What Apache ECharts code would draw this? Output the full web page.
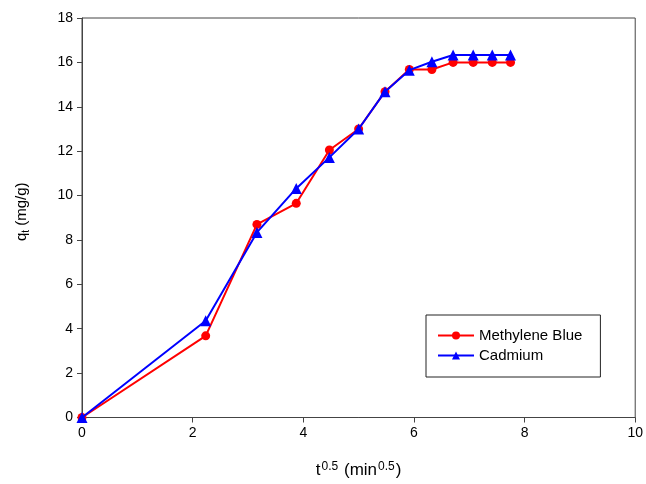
<!DOCTYPE html>
<html><head><meta charset="utf-8">
<script src="https://cdn.jsdelivr.net/npm/echarts@6/dist/echarts.min.js"></script>
<style>html,body{margin:0;padding:0;background:#fff}#c{width:646px;height:484px}</style>
</head><body><div id="c"></div>
<script>
const tValues = [0, 2.236, 3.162, 3.873, 4.472, 5.0, 5.477, 5.916, 6.325, 6.708, 7.071, 7.416, 7.746];
const methyleneBlue = [0, 3.68, 8.70, 9.65, 12.05, 13.0, 14.68, 15.68, 15.68, 16.0, 16.0, 16.0, 16.0];
const cadmium = [0, 4.36, 8.34, 10.32, 11.72, 13.0, 14.68, 15.65, 16.03, 16.33, 16.33, 16.33, 16.33];
const seriesNames = ["Methylene Blue", "Cadmium"];

const font = "Liberation Sans, Arial, sans-serif";
const chart = echarts.init(document.getElementById('c'));
const pairs = arr => tValues.map((t, i) => [t, arr[i]]);
chart.setOption({
  animation: false,
  grid: {left: 82, right: 9, top: 18, bottom: 66, show: true, borderColor: '#444', borderWidth: 1},
  legend: {
    orient: 'vertical', left: 426, top: 315,
    padding: [13, 18, 14, 11], itemGap: 5, itemWidth: 36, itemHeight: 10,
    borderColor: '#222', borderWidth: 1,
    textStyle: {fontFamily: font, fontSize: 15, color: '#000'},
    data: seriesNames
  },
  xAxis: {
    type: 'value', min: 0, max: 10, interval: 2,
    axisLine: {lineStyle: {color: '#444', width: 1}},
    axisTick: {show: true, inside: false, length: 5, lineStyle: {color: '#444'}},
    splitLine: {show: false},
    axisLabel: {fontFamily: font, fontSize: 14, color: '#000', margin: 9},
    name: '{n|t}{s|0.5}{n| (min}{s|0.5}{n|)}',
    nameLocation: 'middle', nameGap: 43,
    nameTextStyle: {rich: {
      n: {fontFamily: font, fontSize: 17, color: '#000'},
      s: {fontFamily: font, fontSize: 12, color: '#000', verticalAlign: 'top', padding: [0, 1, 8, 1]}
    }}
  },
  yAxis: {
    type: 'value', min: 0, max: 18, interval: 2,
    axisLine: {lineStyle: {color: '#444', width: 1}},
    axisTick: {show: true, inside: false, length: 5, lineStyle: {color: '#444'}},
    splitLine: {show: false},
    axisLabel: {fontFamily: font, fontSize: 14, color: '#000', margin: 9},
    name: '{n|q}{b|t}{n| (mg/g)}',
    nameLocation: 'middle', nameGap: 51, nameRotate: 90,
    nameTextStyle: {padding: [0, 0, 0, 12], rich: {
      n: {fontFamily: font, fontSize: 15, color: '#000'},
      b: {fontFamily: font, fontSize: 10, color: '#000', verticalAlign: 'bottom', padding: [8, 0, 0, 0]}
    }}
  },
  series: [
    {name: seriesNames[0], type: 'line', data: pairs(methyleneBlue), symbol: 'circle', symbolSize: 9,
     lineStyle: {color: '#ff0000', width: 2}, itemStyle: {color: '#ff0000'}, z: 2},
    {name: seriesNames[1], type: 'line', data: pairs(cadmium), symbol: 'triangle', symbolSize: 11,
     lineStyle: {color: '#0000ff', width: 2}, itemStyle: {color: '#0000ff'}, z: 3}
  ]
});
</script></body></html>
